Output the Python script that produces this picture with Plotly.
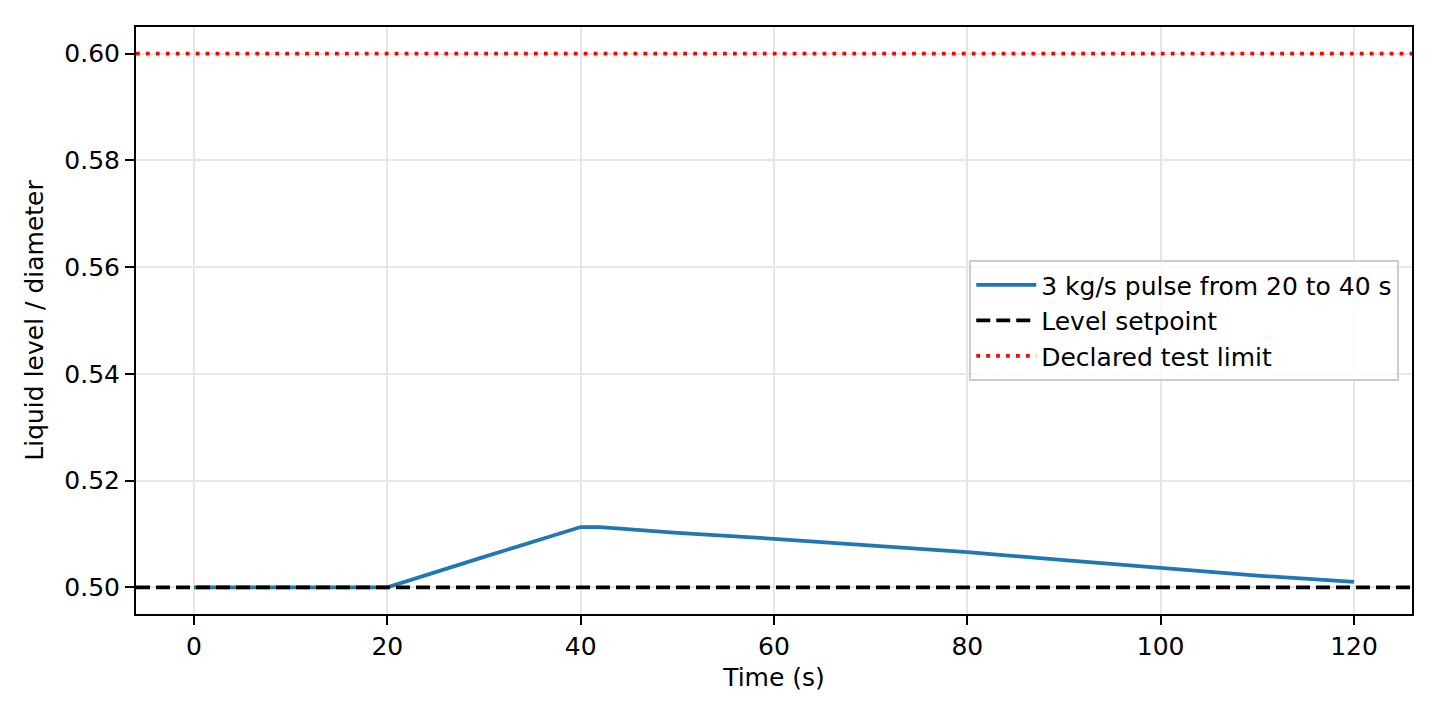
import plotly.graph_objects as go

# level response
time_s = [0, 10, 20, 30, 40, 42, 50, 60, 70, 80, 90, 100, 110, 120]
level = [0.5000, 0.5000, 0.5000, 0.5057, 0.5113, 0.5113, 0.5102, 0.5091,
         0.5079, 0.5066, 0.5051, 0.5037, 0.5022, 0.5010]

setpoint = 0.50
test_limit = 0.60

x_limits = [-6, 126]
y_limits = [0.495, 0.605]
x_ticks = [0, 20, 40, 60, 80, 100, 120]
y_ticks = [0.50, 0.52, 0.54, 0.56, 0.58, 0.60]

font = dict(family="DejaVu Sans", size=25, color="black")

fig = go.Figure()
fig.add_trace(go.Scatter(x=time_s, y=level, mode="lines",
                         name="3 kg/s pulse from 20 to 40 s",
                         line=dict(color="#1f77b4", width=3.75)))
fig.add_trace(go.Scatter(x=x_limits, y=[setpoint, setpoint], mode="lines",
                         name="Level setpoint",
                         line=dict(color="black", width=3.75, dash="14px,6px")))
fig.add_trace(go.Scatter(x=x_limits, y=[test_limit, test_limit], mode="lines",
                         name="Declared test limit",
                         line=dict(color="red", width=3.75, dash="3.75px,6.2px")))

axis_style = dict(showline=True, linecolor="black", linewidth=2, mirror=True,
                  ticks="outside", ticklen=9, tickwidth=2, tickcolor="black",
                  showgrid=True, gridcolor="#e6e6e6", gridwidth=2,
                  zeroline=False, tickfont=font)

fig.update_xaxes(range=x_limits, tickvals=x_ticks, title=dict(text="Time (s)", font=font, standoff=8),
                 **axis_style)
fig.update_yaxes(range=y_limits, tickvals=y_ticks, tickformat=".2f",
                 title=dict(text="Liquid level / diameter", font=font, standoff=14),
                 **axis_style)

fig.update_layout(
    width=1440, height=720,
    margin=dict(l=128, r=36, t=19, b=114),
    plot_bgcolor="white", paper_bgcolor="white",
    font=font,
    legend=dict(x=0.99, xanchor="right", y=0.5, yanchor="middle",
                bgcolor="rgba(255,255,255,0.8)", bordercolor="#cccccc", borderwidth=2,
                itemwidth=60, font=font),
)

fig.write_html("out.html")
